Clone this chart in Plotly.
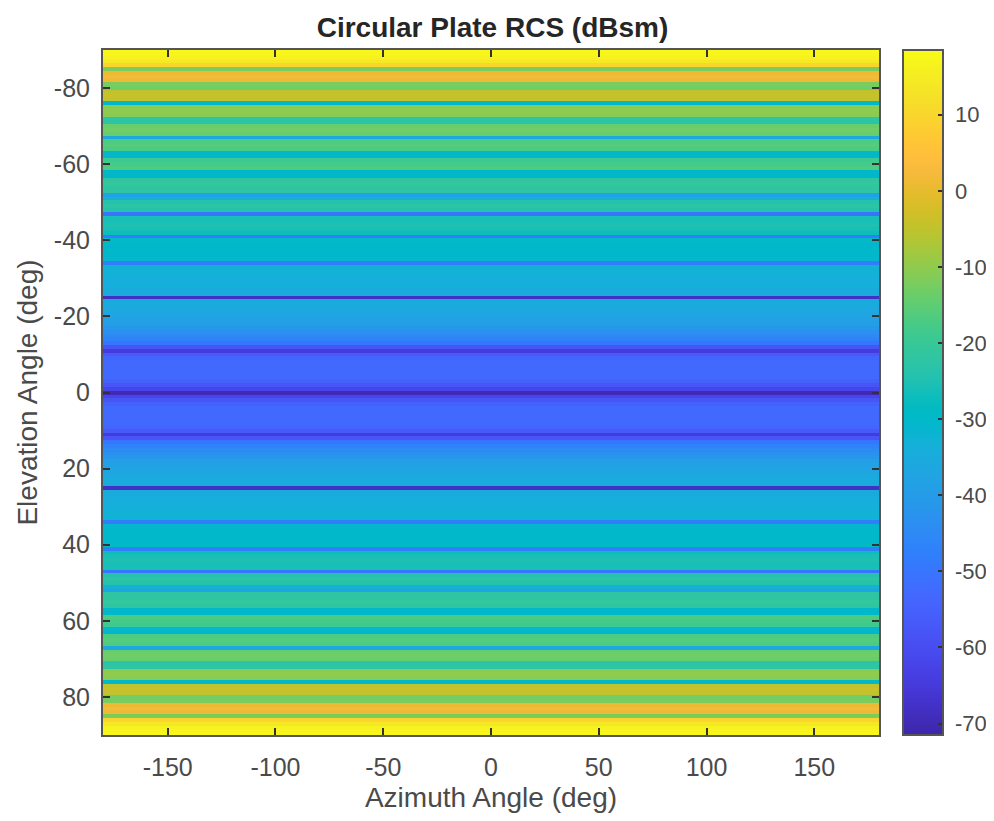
import plotly.graph_objects as go

azimuth = list(range(-180, 181, 10))
# RCS per degree of elevation from -90 to 0 (the plate response is symmetric about 0)
rcs_upper = [18, 17, 16, 14, 10, -12, 1, 2, 1, -12, -13, -5, -4, -5, -30, -11, -10, -11, -22, -23,
             -14, -13, -14, -36, -17, -16, -17, -30, -31, -19, -18, -17, -30, -30, -22, -21, -22, -22, -38, -33,
             -24, -23, -24, -50, -26, -26, -25, -26, -27, -48, -29, -30, -30, -30, -30, -31, -48, -33, -33, -33,
             -34, -34, -34, -35, -35, -68, -35, -35, -36, -37, -37, -38, -39, -41, -43, -45, -47, -50, -58, -65, -57,
             -54, -53, -53, -53, -53, -53, -55, -58, -62, -70]
rcs_by_elev = rcs_upper + rcs_upper[-2::-1]
elevation = list(range(-90, 91))
z_rows = [[v] * len(azimuth) for v in rcs_by_elev]

parula = [
 (0.2422,0.1504,0.6603),(0.2504,0.1650,0.7076),(0.2578,0.1818,0.7511),(0.2647,0.1978,0.7952),
 (0.2706,0.2147,0.8364),(0.2751,0.2342,0.8710),(0.2783,0.2559,0.8991),(0.2803,0.2782,0.9221),
 (0.2813,0.3006,0.9414),(0.2810,0.3228,0.9579),(0.2795,0.3447,0.9717),(0.2760,0.3667,0.9829),
 (0.2699,0.3892,0.9906),(0.2602,0.4123,0.9952),(0.2440,0.4358,0.9988),(0.2206,0.4603,0.9973),
 (0.1963,0.4847,0.9892),(0.1834,0.5074,0.9798),(0.1786,0.5289,0.9682),(0.1764,0.5499,0.9520),
 (0.1687,0.5703,0.9359),(0.1540,0.5902,0.9218),(0.1460,0.6091,0.9079),(0.1380,0.6276,0.8973),
 (0.1248,0.6459,0.8883),(0.1113,0.6635,0.8763),(0.0952,0.6798,0.8598),(0.0689,0.6948,0.8394),
 (0.0297,0.7082,0.8163),(0.0036,0.7203,0.7917),(0.0067,0.7312,0.7660),(0.0433,0.7411,0.7394),
 (0.0964,0.7500,0.7120),(0.1408,0.7584,0.6842),(0.1717,0.7670,0.6554),(0.1938,0.7758,0.6251),
 (0.2161,0.7843,0.5923),(0.2470,0.7918,0.5567),(0.2906,0.7973,0.5188),(0.3406,0.8008,0.4789),
 (0.3909,0.8029,0.4354),(0.4456,0.8024,0.3909),(0.5044,0.7993,0.3480),(0.5616,0.7942,0.3045),
 (0.6174,0.7876,0.2612),(0.6720,0.7793,0.2227),(0.7242,0.7698,0.1910),(0.7738,0.7598,0.1646),
 (0.8203,0.7498,0.1535),(0.8634,0.7406,0.1596),(0.9035,0.7330,0.1774),(0.9393,0.7288,0.2100),
 (0.9728,0.7298,0.2394),(0.9956,0.7434,0.2371),(0.9970,0.7659,0.2199),(0.9952,0.7861,0.1986),
 (0.9892,0.8136,0.1885),(0.9786,0.8386,0.1766),(0.9676,0.8639,0.1643),(0.9610,0.8890,0.1537),
 (0.9597,0.9135,0.1423),(0.9628,0.9373,0.1265),(0.9691,0.9606,0.1064),(0.9769,0.9839,0.0805)]
colorscale = [[i / (len(parula) - 1), f"rgb({r*255:.0f},{g*255:.0f},{b*255:.0f})"] for i, (r, g, b) in enumerate(parula)]

FONT = "Liberation Sans, Arial, sans-serif"
TXT = "#4a4a4a"
AX = "#555555"
bar_ticks = list(range(-70, 11, 10))
x_ticks = list(range(-150, 151, 50))
y_ticks = list(range(-80, 81, 20))

fig = go.Figure(go.Heatmap(
    x=azimuth, y=elevation, z=z_rows, zmin=-71.5, zmax=18.5, colorscale=colorscale,
    colorbar=dict(x=1.031, xanchor="left", y=0.5, yanchor="middle", len=1, lenmode="fraction",
                  thickness=40, thicknessmode="pixels", xpad=0, ypad=0, outlinecolor=AX, outlinewidth=2,
                  tickvals=bar_ticks, ticktext=["\u00a0" + str(t) for t in bar_ticks],
                  ticks="inside", ticklen=6, tickcolor="#333333", tickwidth=1.5,
                  tickfont=dict(family=FONT, size=22, color=TXT)),
))
axis = dict(showgrid=False, zeroline=False, showline=True, linecolor=AX, linewidth=2, mirror="allticks",
            ticks="inside", ticklen=7, tickcolor="#333333", tickwidth=1.5, automargin=True,
            tickfont=dict(family=FONT, size=25, color=TXT))
fig.update_xaxes(range=[-180, 180], tickvals=x_ticks, ticktext=[str(t) for t in x_ticks], ticklabelstandoff=9,
                 title=dict(text="Azimuth Angle (deg)", font=dict(family=FONT, size=28, color=TXT), standoff=13), **axis)
fig.update_yaxes(range=[90, -90], tickvals=y_ticks, ticktext=[str(t) for t in y_ticks], ticklabelstandoff=6,
                 title=dict(text="Elevation Angle (deg)", font=dict(family=FONT, size=28, color=TXT), standoff=8), **axis)
fig.update_layout(
    width=978, height=805, margin=dict(l=95, r=107, t=42, b=78, autoexpand=False), paper_bgcolor="white", plot_bgcolor="white",
    title=dict(text="<b>Circular Plate RCS (dBsm)</b>", font=dict(family=FONT, size=28, color="#262626"),
               x=0.4954, xanchor="center", y=0.976, yanchor="middle"),
)
fig.write_html("out.html")
